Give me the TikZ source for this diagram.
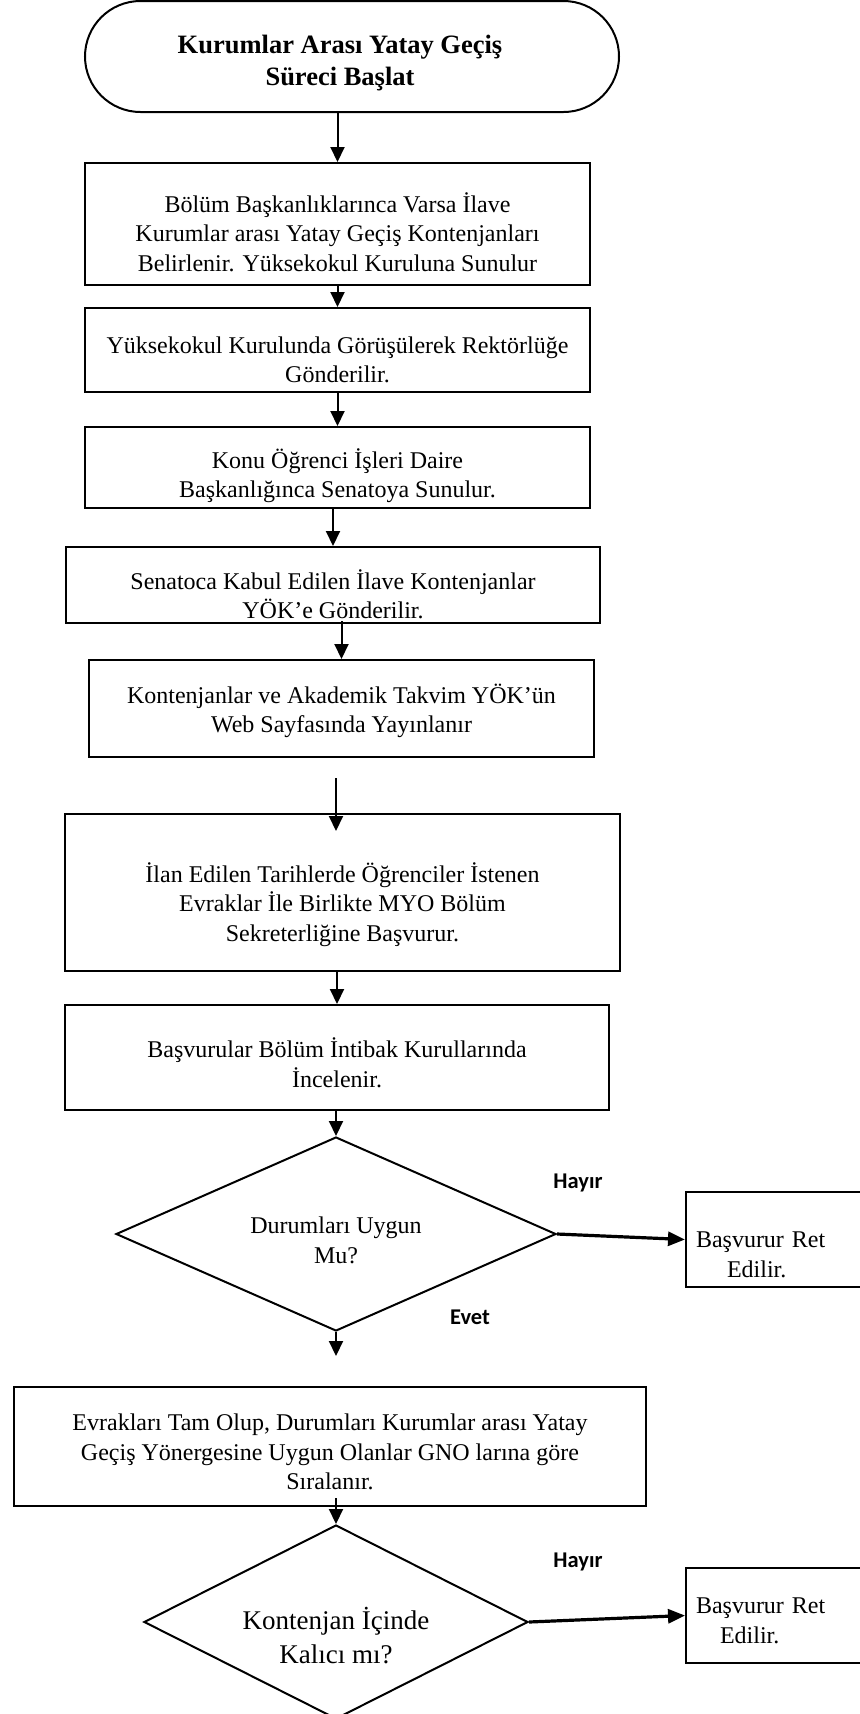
\documentclass[tikz,border=0pt]{standalone}
\usepackage{fontspec}
\setmainfont{Liberation Serif}
\newfontfamily\yanitfont{Carlito}
\usepackage{tikz}
\usetikzlibrary{shapes.geometric, arrows, positioning, arrows.meta}
% ilk satirin ustune bosluk
\newcommand{\ustpay}[1]{\rule{0pt}{#1}}

\begin{document}
\begin{tikzpicture}[node distance=60pt, auto, line width=1pt]
    % Stiller
    \tikzset{
        terminal/.style = {rectangle, draw, rounded corners=27.75pt, minimum width=267pt, minimum height=55.5pt, inner ysep=1pt, align=center, font=\fontsize{13.25}{16}\selectfont\bfseries},
        block/.style    = {rectangle, draw, minimum width=252.5pt, inner ysep=1pt, align=center, font=\fontsize{12}{14.75}\selectfont},
        decision/.style = {diamond, draw, shape aspect=2.3, inner sep=0pt, minimum width=220pt, minimum height=97pt, align=center, font=\fontsize{12}{14.75}\selectfont},
        reject/.style   = {rectangle, draw, minimum height=47.5pt, text width=110pt, inner xsep=5pt, inner ysep=1pt, align=left, font=\fontsize{12}{15}\selectfont},
        answer/.style   = {font=\yanitfont\bfseries\fontsize{11.25}{13}\selectfont},
        line/.style     = {draw, -{Triangle[length=7.5pt, width=7pt]}},
        thickline/.style = {line, line width=1.6pt, -{Triangle[length=8.5pt, width=7pt]}}
    }
    \useasboundingbox (0,0) rectangle (430pt,-857pt);

    % Ana akis
    \node [terminal] (start) at (176pt,-28.25pt) {\ustpay{16pt}Kurumlar Arası Yatay Geçiş\hspace*{12pt}\\Süreci Başlat\hspace*{12pt}};
    \node [block, below of=start, xshift=-7.25pt, yshift=-23.75pt, minimum height=61pt] (ilave) {\ustpay{18pt}Bölüm Başkanlıklarınca Varsa İlave\\Kurumlar arası Yatay Geçiş Kontenjanları\\Belirlenir. Yüksekokul Kuruluna Sunulur};
    \node [block, below of=ilave, yshift=-3pt, minimum height=42pt] (kurul) {\ustpay{18.3pt}Yüksekokul Kurulunda Görüşülerek Rektörlüğe\\Gönderilir.};
    \node [block, below of=kurul, yshift=1.25pt, minimum height=40.5pt] (senato) {\ustpay{18.3pt}Konu Öğrenci İşleri Daire\\Başkanlığınca Senatoya Sunulur.};
    \node [block, below of=senato, xshift=-2.25pt, yshift=1.25pt, minimum width=267pt, minimum height=38pt] (yok) {\ustpay{19pt}Senatoca Kabul Edilen İlave Kontenjanlar\\YÖK’e Gönderilir.};
    \node [block, below of=yok, xshift=4.25pt, yshift=-1.75pt, minimum height=48.5pt] (takvim) {\ustpay{12.3pt}Kontenjanlar ve Akademik Takvim YÖK’ün\\Web Sayfasında Yayınlanır};
    \node [block, below of=takvim, xshift=0.5pt, yshift=-32pt, minimum width=277.5pt, minimum height=78.5pt] (basvuru) {\ustpay{22pt}İlan Edilen Tarihlerde Öğrenciler İstenen\\Evraklar İle Birlikte MYO Bölüm\\Sekreterliğine Başvurur.};
    \node [block, below of=basvuru, xshift=-2.75pt, yshift=-22.5pt, minimum width=272pt, minimum height=52.5pt] (intibak) {\ustpay{15.3pt}Başvurular Bölüm İntibak Kurullarında\\İncelenir.};
    \node [decision, below of=intibak, xshift=-0.5pt, yshift=-28.25pt] (uygun) {\ustpay{14.8pt}Durumları Uygun\\Mu?};
    \node [block, below of=uygun, xshift=-3pt, yshift=-46.25pt, minimum width=316pt, minimum height=59.5pt] (sirala) {\ustpay{13.8pt}Evrakları Tam Olup, Durumları Kurumlar arası Yatay\\Geçiş Yönergesine Uygun Olanlar GNO larına göre\\Sıralanır.};
    \node [decision, below of=sirala, xshift=3pt, yshift=-27.75pt, minimum width=192pt, shape aspect=1.9, font=\fontsize{13.5}{17}\selectfont] (kontenjan) {\ustpay{25pt}Kontenjan İçinde\\Kalıcı mı?};

    % Ret kutulari
    \node [reject, right of=uygun, xshift=175pt, yshift=-2.75pt] (ret1) {\ustpay{23pt}Başvurur Ret\\\hspace*{15.5pt}Edilir.};
    \node [reject, right of=kontenjan, xshift=175pt, yshift=3.25pt] (ret2) {\ustpay{13.3pt}Başvurur Ret\\\hspace*{12pt}Edilir.};

    % Cevaplar
    \node [answer, right of=uygun, xshift=61pt, yshift=25.5pt] (hayir1) {Hayır};
    \node [answer, right of=uygun, xshift=7pt, yshift=-41.5pt] (evet) {Evet};
    \node [answer, right of=kontenjan, xshift=61pt, yshift=30pt] (hayir2) {Hayır};

    % Baglantilar
    \path [line] (start.south -| ilave) -- (ilave.north);
    \path [line] (ilave.south) -- (kurul.north);
    \path [line] (kurul.south) -- (senato.north);
    \path [line] (senato.south -| yok) -- (yok.north);
    \path [line, shorten <=-1.5pt] (yok.south -| takvim) -- (takvim.north);
    \path [line, shorten <=10pt, shorten >=-9pt] (takvim.south -| uygun) -- (basvuru.north -| uygun);
    \path [line] (basvuru.south -| intibak) -- (intibak.north);
    \path [line] (intibak.south -| uygun) -- (uygun.north);
    \path [line, shorten >=15pt] (uygun.south) -- (sirala.north -| uygun);
    \path [line, shorten <=-4.5pt] (sirala.south -| kontenjan) -- (kontenjan.north);
    \path [thickline] (uygun.east) -- (ret1.west);
    \path [thickline] (kontenjan.east) -- (ret2.west);
\end{tikzpicture}
\end{document}
